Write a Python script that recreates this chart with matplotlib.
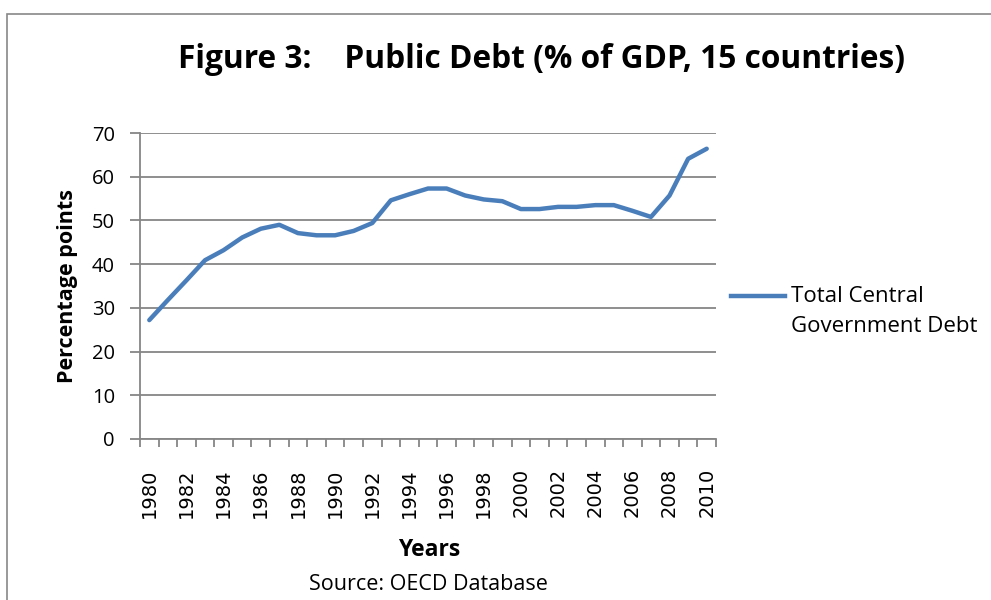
import matplotlib
matplotlib.use("Agg")
import matplotlib.pyplot as plt
from matplotlib.lines import Line2D
from matplotlib.patches import Rectangle

years = list(range(1980, 2011))
debt = [27.2, 31.8, 36.3, 40.9, 43.2, 46.1, 48.1, 49.0, 47.1, 46.6, 46.6,
        47.6, 49.4, 54.6, 56.0, 57.3, 57.3, 55.7, 54.8, 54.4, 52.6, 52.6,
        53.1, 53.1, 53.5, 53.5, 52.2, 50.8, 55.7, 64.1, 66.4]
y_ticks = [0, 10, 20, 30, 40, 50, 60, 70]
x_labels = list(range(1980, 2011, 2))
series_name = "Total Central\nGovernment Debt"
title = "Figure 3:    Public Debt (% of GDP, 15 countries)"

W, H = 991, 600
fig = plt.figure(figsize=(W / 100, H / 100), dpi=100)
fig.patch.set_facecolor("white")

# outer chart frame
fig.add_artist(Rectangle((7 / W, -0.1), 1.2, 1 - 14 / H + 0.1, transform=fig.transFigure,
                         fill=False, edgecolor="#888888", lw=1.2))

ax = fig.add_axes([140 / W, 1 - 439 / H, (716 - 140) / W, (439 - 133) / H])
grid_c = "#868686"
ax.plot(years, debt, color="#4a7ebb", lw=3.2, solid_capstyle="round", solid_joinstyle="round",
        zorder=3)
ax.set_xlim(1979.5, 2010.5)
ax.set_ylim(0, 70)
ax.set_yticks(y_ticks)
ax.yaxis.grid(True, color=grid_c, lw=1.3)
ax.set_axisbelow(True)
for s in ["top", "right"]:
    ax.spines[s].set_visible(False)
for s in ["left", "bottom"]:
    ax.spines[s].set_color(grid_c)
    ax.spines[s].set_linewidth(1.3)

ax.set_xticks(x_labels)
ax.set_xticklabels([str(y) for y in x_labels], rotation=90, family="DejaVu Sans", fontsize=14)
ax.tick_params(axis="x", which="major", length=0, pad=21)
ax.set_xticks([y - 0.5 for y in years] + [2010.5], minor=True)
ax.tick_params(axis="x", which="minor", length=6, width=1.3, color=grid_c, direction="out")
ax.tick_params(axis="y", length=7, width=1.3, color=grid_c, direction="out", pad=11)
for lab in ax.get_yticklabels():
    lab.set_family("Open Sans")
    lab.set_fontsize(14.5)

ax.set_ylabel("Percentage points", family="Open Sans", fontweight="bold", fontsize=15.5,
              labelpad=10)
fig.text(429 / W, 1 - 550 / H, "Years", ha="center", va="center", family="Open Sans",
         fontweight="bold", fontsize=16.5)
fig.text(428 / W, 1 - 585 / H, "Source: OECD Database", ha="center", va="center",
         family="Open Sans", fontsize=15.5)
fig.text(541 / W, 1 - 60 / H, title, ha="center", va="center", family="Open Sans",
         fontweight="bold", fontsize=22.8)

# legend
fig.add_artist(Line2D([731 / W, 785 / W], [1 - 296 / H, 1 - 296 / H], transform=fig.transFigure,
                      color="#4a7ebb", lw=3.2))
fig.text(791 / W, 1 - 296 / H, "Total Central", ha="left", va="center", family="Open Sans",
         fontsize=16)
fig.text(791 / W, 1 - 327 / H, "Government Debt", ha="left", va="center", family="Open Sans",
         fontsize=16)

fig.savefig("out.png", dpi=100)
